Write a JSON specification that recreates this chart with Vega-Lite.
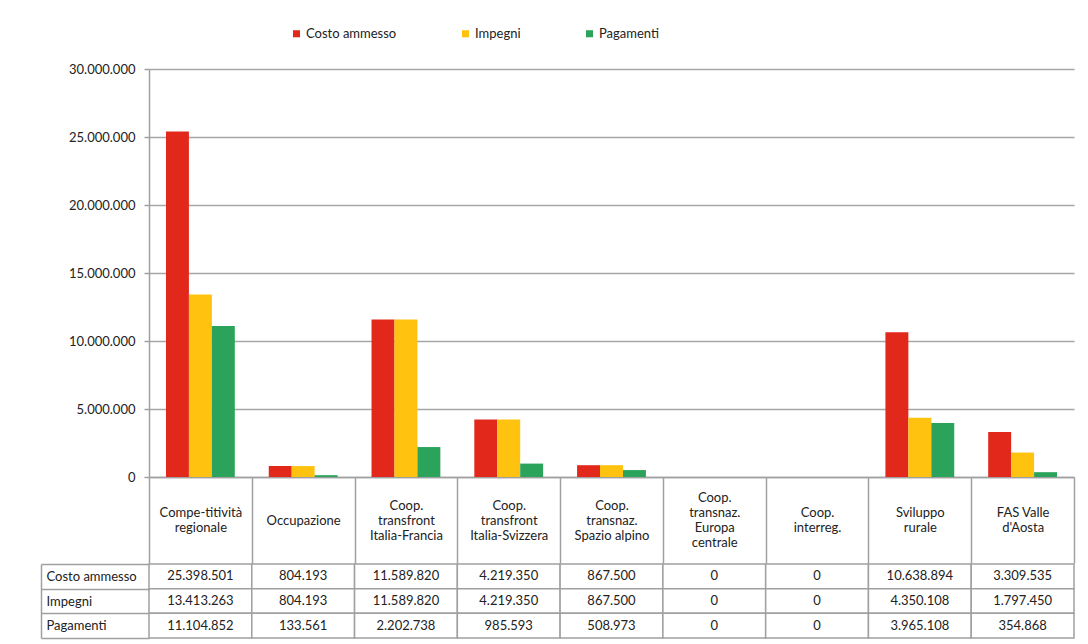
{
  "$schema": "https://vega.github.io/schema/vega-lite/v6.json",
  "background": "white",
  "padding": {"left": 40, "top": 27, "right": 15, "bottom": 5},
  "spacing": -7,
  "datasets": {
    "rows": [
      {"cat": "Compe-titività|regionale", "serie": "Costo ammesso", "value": 25398501},
      {"cat": "Compe-titività|regionale", "serie": "Impegni", "value": 13413263},
      {"cat": "Compe-titività|regionale", "serie": "Pagamenti", "value": 11104852},
      {"cat": "Occupazione", "serie": "Costo ammesso", "value": 804193},
      {"cat": "Occupazione", "serie": "Impegni", "value": 804193},
      {"cat": "Occupazione", "serie": "Pagamenti", "value": 133561},
      {"cat": "Coop.|transfront|Italia-Francia", "serie": "Costo ammesso", "value": 11589820},
      {"cat": "Coop.|transfront|Italia-Francia", "serie": "Impegni", "value": 11589820},
      {"cat": "Coop.|transfront|Italia-Francia", "serie": "Pagamenti", "value": 2202738},
      {"cat": "Coop.|transfront|Italia-Svizzera", "serie": "Costo ammesso", "value": 4219350},
      {"cat": "Coop.|transfront|Italia-Svizzera", "serie": "Impegni", "value": 4219350},
      {"cat": "Coop.|transfront|Italia-Svizzera", "serie": "Pagamenti", "value": 985593},
      {"cat": "Coop.|transnaz.|Spazio alpino", "serie": "Costo ammesso", "value": 867500},
      {"cat": "Coop.|transnaz.|Spazio alpino", "serie": "Impegni", "value": 867500},
      {"cat": "Coop.|transnaz.|Spazio alpino", "serie": "Pagamenti", "value": 508973},
      {"cat": "Coop.|transnaz.|Europa|centrale", "serie": "Costo ammesso", "value": 0},
      {"cat": "Coop.|transnaz.|Europa|centrale", "serie": "Impegni", "value": 0},
      {"cat": "Coop.|transnaz.|Europa|centrale", "serie": "Pagamenti", "value": 0},
      {"cat": "Coop.|interreg.", "serie": "Costo ammesso", "value": 0},
      {"cat": "Coop.|interreg.", "serie": "Impegni", "value": 0},
      {"cat": "Coop.|interreg.", "serie": "Pagamenti", "value": 0},
      {"cat": "Sviluppo|rurale", "serie": "Costo ammesso", "value": 10638894},
      {"cat": "Sviluppo|rurale", "serie": "Impegni", "value": 4350108},
      {"cat": "Sviluppo|rurale", "serie": "Pagamenti", "value": 3965108},
      {"cat": "FAS Valle|d'Aosta", "serie": "Costo ammesso", "value": 3309535},
      {"cat": "FAS Valle|d'Aosta", "serie": "Impegni", "value": 1797450},
      {"cat": "FAS Valle|d'Aosta", "serie": "Pagamenti", "value": 354868}
    ]
  },
  "vconcat": [
    {
      "width": 925,
      "height": 408,
      "data": {"name": "rows"},
      "mark": {"type": "bar"},
      "encoding": {
        "x": {
          "field": "cat",
          "type": "nominal",
          "sort": null,
          "scale": {"paddingInner": 0, "paddingOuter": 0},
          "axis": {
            "title": null,
            "labelExpr": "split(datum.label, '|')",
            "labelAngle": 0,
            "labelAlign": "center",
            "labelBaseline": "middle",
            "labelPadding": {
              "condition": [
                {"test": "length(split(datum.value, '|')) == 4", "value": -65.5},
                {"test": "length(split(datum.value, '|')) == 3", "value": -58},
                {"test": "length(split(datum.value, '|')) == 2", "value": -50.5}
              ],
              "value": -43
            },
            "labelLineHeight": 15,
            "labelOverlap": false,
            "labelFontSize": 13,
            "labelColor": "#222222",
            "tickBand": "extent",
            "tickSize": 86,
            "tickColor": "#a0a0a0",
            "tickWidth": 1.5,
            "domainColor": "#a0a0a0",
            "domainWidth": 1.5,
            "minExtent": 86,
            "maxExtent": 86
          }
        },
        "xOffset": {
          "field": "serie",
          "type": "nominal",
          "sort": ["Costo ammesso", "Impegni", "Pagamenti"],
          "scale": {"paddingInner": 0, "paddingOuter": 0.74}
        },
        "y": {
          "field": "value",
          "type": "quantitative",
          "scale": {"domain": [0, 30000000], "nice": false},
          "axis": {
            "title": null,
            "values": [0, 5000000, 10000000, 15000000, 20000000, 25000000, 30000000],
            "format": ",d",
            "labelFontSize": 13,
            "labelColor": "#222222",
            "labelPadding": 9,
            "tickSize": 5,
            "tickColor": "#a0a0a0",
            "tickWidth": 1.5,
            "domainColor": "#a0a0a0",
            "domainWidth": 1.5,
            "grid": true,
            "gridColor": "#a6a6a6",
            "gridWidth": 1.5
          }
        },
        "color": {
          "field": "serie",
          "type": "nominal",
          "scale": {
            "domain": ["Costo ammesso", "Impegni", "Pagamenti"],
            "range": ["#e2281b", "#ffc20e", "#2ca35a"]
          },
          "legend": {
            "title": null,
            "orient": "none",
            "legendX": 141,
            "legendY": -42,
            "direction": "horizontal",
            "symbolType": "square",
            "symbolSize": 50,
            "symbolStrokeWidth": 0,
            "labelFontSize": 13,
            "labelColor": "#222222",
            "labelOffset": 3,
            "columnPadding": 62
          }
        }
      }
    },
    {
      "width": 925,
      "height": 74,
      "data": {"name": "rows"},
      "encoding": {
        "x": {
          "field": "cat",
          "type": "nominal",
          "sort": null,
          "scale": {"paddingInner": 0, "paddingOuter": 0},
          "axis": null
        },
        "y": {
          "field": "serie",
          "type": "nominal",
          "sort": ["Costo ammesso", "Impegni", "Pagamenti"],
          "scale": {"paddingInner": 0, "paddingOuter": 0},
          "axis": {
            "title": null,
            "orient": "left",
            "offset": 108,
            "tickBand": "extent",
            "tickSize": -108,
            "tickColor": "#a0a0a0",
            "tickWidth": 1.5,
            "domainColor": "#a0a0a0",
            "domainWidth": 1.5,
            "labelAlign": "left",
            "labelPadding": 103,
            "labelFontSize": 13,
            "labelColor": "#222222"
          }
        }
      },
      "layer": [
        {
          "mark": {"type": "rect", "fill": "white", "stroke": "#a0a0a0", "strokeWidth": 1.5}
        },
        {
          "mark": {"type": "text", "fontSize": 13, "color": "#222222"},
          "encoding": {
            "text": {"field": "value", "type": "quantitative", "format": ",d"}
          }
        }
      ]
    }
  ],
  "config": {
    "font": "Lato",
    "view": {"stroke": null},
    "locale": {
      "number": {"decimal": ",", "thousands": ".", "grouping": [3], "currency": ["€", ""]}
    }
  }
}
